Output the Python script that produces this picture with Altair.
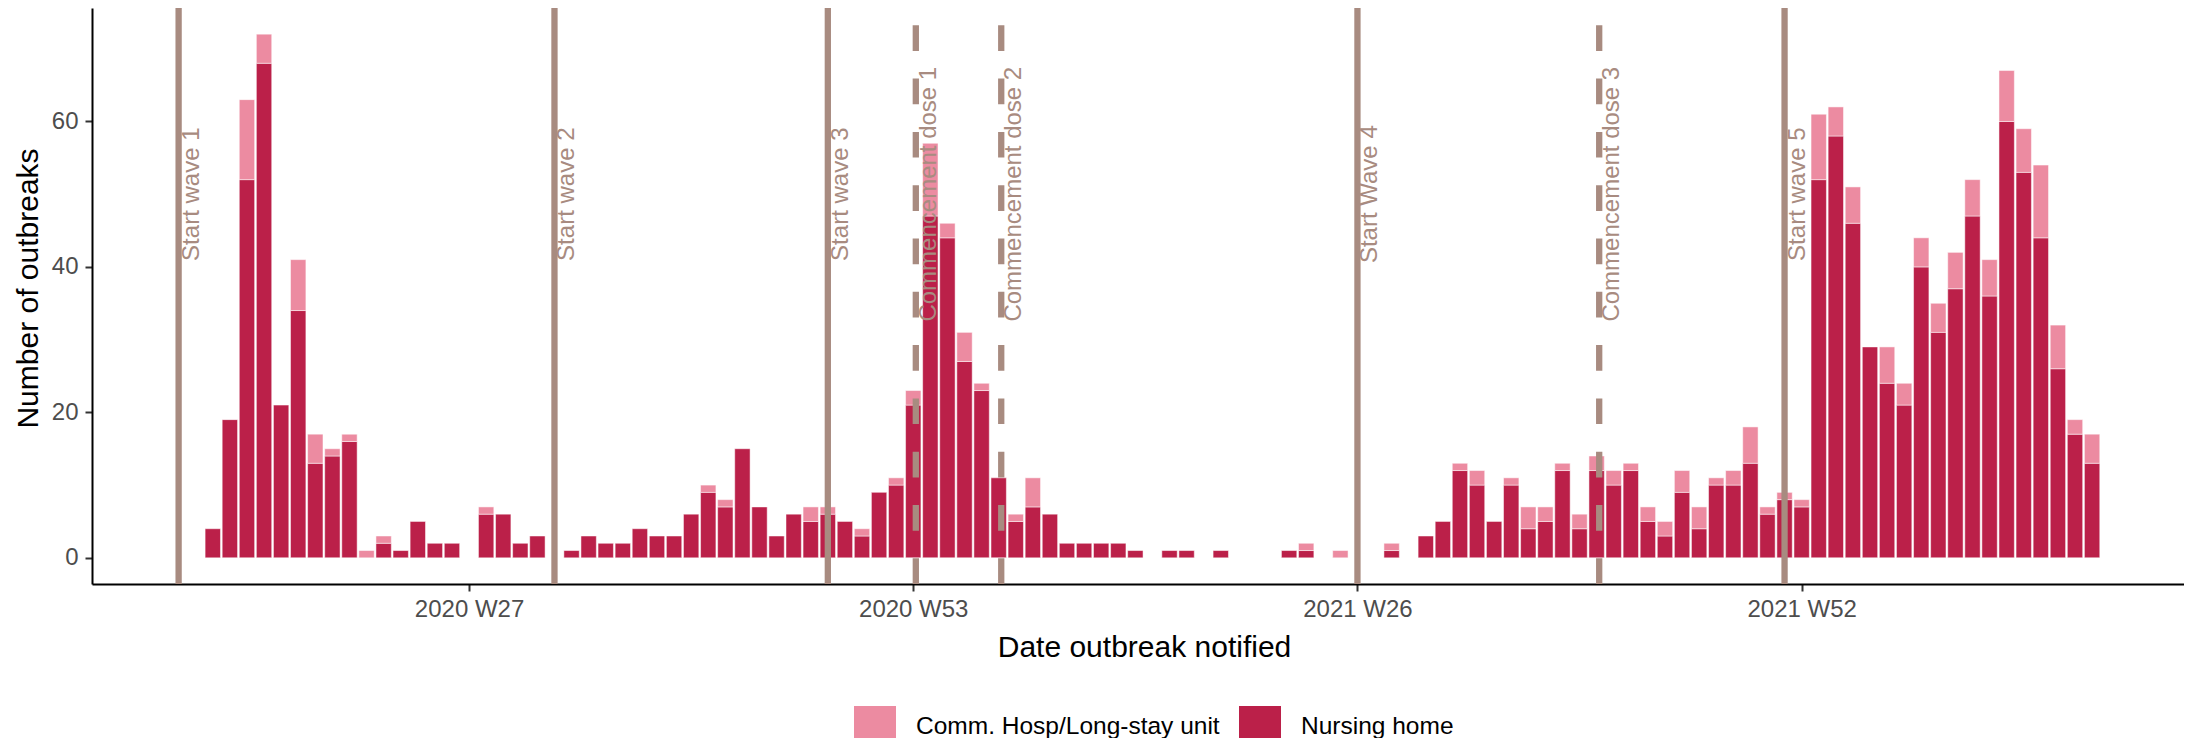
import altair as alt
import pandas as pd

# ---- data (weekly outbreaks, week index: 2020 W1 = 1, 2021 W1 = 54, 2022 W1 = 106) ----
weeks = list(range(12, 123))
nursing_home = [
    4, 19, 52, 68, 21, 34, 13, 14, 16, 0,
    2, 1, 5, 2, 2, 0, 6, 6, 2, 3,
    0, 1, 3, 2, 2, 4, 3, 3, 6, 9,
    7, 15, 7, 3, 6, 5, 6, 5, 3, 9,
    10, 21,
    47, 44, 27, 23, 11, 5, 7, 6, 2, 2,
    2, 2, 1, 0, 1, 1, 0, 1, 0, 0,
    0, 1, 1, 0, 0, 0, 0, 1, 0, 3,
    5, 12, 10, 5, 10, 4, 5, 12, 4, 12,
    10, 12, 5, 3, 9, 4, 10, 10, 13, 6,
    8, 7,
    52, 58, 46, 29, 24, 21, 40, 31, 37, 47, 36, 60, 53, 44, 26, 17, 13,
]
comm_hosp = [
    0, 0, 11, 4, 0, 7, 4, 1, 1, 1,
    1, 0, 0, 0, 0, 0, 1, 0, 0, 0,
    0, 0, 0, 0, 0, 0, 0, 0, 0, 1,
    1, 0, 0, 0, 0, 2, 1, 0, 1, 0,
    1, 2,
    10, 2, 4, 1, 0, 1, 4, 0, 0, 0,
    0, 0, 0, 0, 0, 0, 0, 0, 0, 0,
    0, 0, 1, 0, 1, 0, 0, 1, 0, 0,
    0, 1, 2, 0, 1, 3, 2, 1, 2, 2,
    2, 1, 2, 2, 3, 3, 1, 2, 5, 1,
    1, 1,
    9, 4, 5, 0, 5, 3, 4, 4, 5, 5, 5, 7, 6, 10, 6, 2, 4,
]
categories = ["Comm. Hosp/Long-stay unit", "Nursing home"]
cat_colors = ["#EC8BA1", "#BB2049"]

tick_values = [27, 53, 79, 105]
tick_labels = ["2020 W27", "2020 W53", "2021 W26", "2021 W52"]

wave_pos = [10, 32, 48, 79, 104]
wave_labels = ["Start wave 1", "Start wave 2", "Start wave 3", "Start Wave 4", "Start wave 5"]
dose_pos = [53.15, 58.15, 93.15]
dose_labels = ["Commencement dose 1", "Commencement dose 2", "Commencement dose 3"]
label_y = 50

line_color = "#A88B80"
FONT = "Liberation Sans"

# ---- tables ----
rows = []
for w, nh, c in zip(weeks, nursing_home, comm_hosp):
    rows.append(dict(week=w, type=categories[1], y0=0, y1=nh))
    rows.append(dict(week=w, type=categories[0], y0=nh, y1=nh + c))
bars_df = pd.DataFrame(rows)
bars_df = bars_df[bars_df.y1 > bars_df.y0]

waves_df = pd.DataFrame({"pos": wave_pos, "label": wave_labels, "ly": label_y})
doses_df = pd.DataFrame({"pos": dose_pos, "label": dose_labels, "ly": label_y})
labels_df = pd.concat([waves_df, doses_df])

W, H = 2092, 576
xscale = alt.Scale(domain=[4.93, 127.38], nice=False, zero=False)
yscale = alt.Scale(domain=[-3.6, 75.6], nice=False, zero=False)

label_expr = " : ".join(f"datum.value === {v} ? '{l}'" for v, l in zip(tick_values, tick_labels)) + " : ''"

x_axis = alt.Axis(
    values=tick_values, labelExpr=label_expr, title="Date outbreak notified",
    titleFontSize=30, titleFontWeight="normal", titleColor="black",
    titleX=1052, titleY=72, titleAlign="center", titleBaseline="alphabetic",
    labelFontSize=24, labelColor="#4D4D4D", labelPadding=6,
    tickSize=7, tickWidth=2, tickColor="#333333",
    domainColor="black", domainWidth=2, grid=False, labelFlush=False,
)
y_axis = alt.Axis(
    values=[0, 20, 40, 60], title="Number of outbreaks",
    titleFontSize=30, titleFontWeight="normal", titleColor="black",
    titleX=-55, titleY=280, titleAngle=270, titleAlign="center", titleBaseline="alphabetic",
    labelFontSize=24, labelColor="#4D4D4D", labelPadding=7,
    tickSize=7, tickWidth=2, tickColor="#333333",
    domainColor="black", domainWidth=2, grid=False,
)

bars = alt.Chart(bars_df).transform_calculate(
    x0="datum.week - 0.45", x1="datum.week + 0.45"
).mark_bar(stroke="white", strokeWidth=0.5).encode(
    x=alt.X("x0:Q", scale=xscale, axis=x_axis, title="Date outbreak notified"),
    x2="x1:Q",
    y=alt.Y("y0:Q", scale=yscale, axis=y_axis, title="Number of outbreaks"),
    y2="y1:Q",
    color=alt.Color(
        "type:N",
        scale=alt.Scale(domain=categories, range=cat_colors),
        legend=alt.Legend(
            title=None, orient="none", legendX=762, legendY=698,
            direction="horizontal", symbolType="square", symbolSize=1764,
            symbolStrokeWidth=0, symbolOpacity=1, labelFontSize=24.5, labelFont=FONT,
            labelColor="black", labelOffset=20, columnPadding=19, padding=0,
            labelLimit=600,
        ),
    ),
)

solid = alt.Chart(waves_df).mark_rule(color=line_color, strokeWidth=6.3, strokeCap="butt").encode(
    x=alt.X("pos:Q", scale=xscale, axis=x_axis, title="Date outbreak notified"),
    y=alt.value(0), y2=alt.value(H),
)
dashed = alt.Chart(doses_df).mark_rule(
    color=line_color, strokeWidth=6.3, strokeCap="butt", strokeDash=[25.7, 27.6]
).encode(
    x=alt.X("pos:Q", scale=xscale, axis=x_axis, title="Date outbreak notified"),
    y=alt.value(H), y2=alt.value(0),
)
texts = alt.Chart(labels_df).mark_text(
    angle=270, align="center", baseline="alphabetic", dy=20,
    fontSize=24, font=FONT, color=line_color,
).encode(
    x=alt.X("pos:Q", scale=xscale, axis=x_axis, title="Date outbreak notified"),
    y=alt.Y("ly:Q", scale=yscale, axis=y_axis, title="Number of outbreaks"),
    text="label:N",
)

chart = alt.layer(bars, solid, dashed, texts).properties(
    width=W, height=H,
    autosize=alt.AutoSizeParams(type="none"),
    padding={"left": 84, "top": 0, "right": 0, "bottom": 154},
).configure(font=FONT).configure_view(stroke=None)

chart.save("out.html", embed_options={"renderer": "svg", "actions": False})
